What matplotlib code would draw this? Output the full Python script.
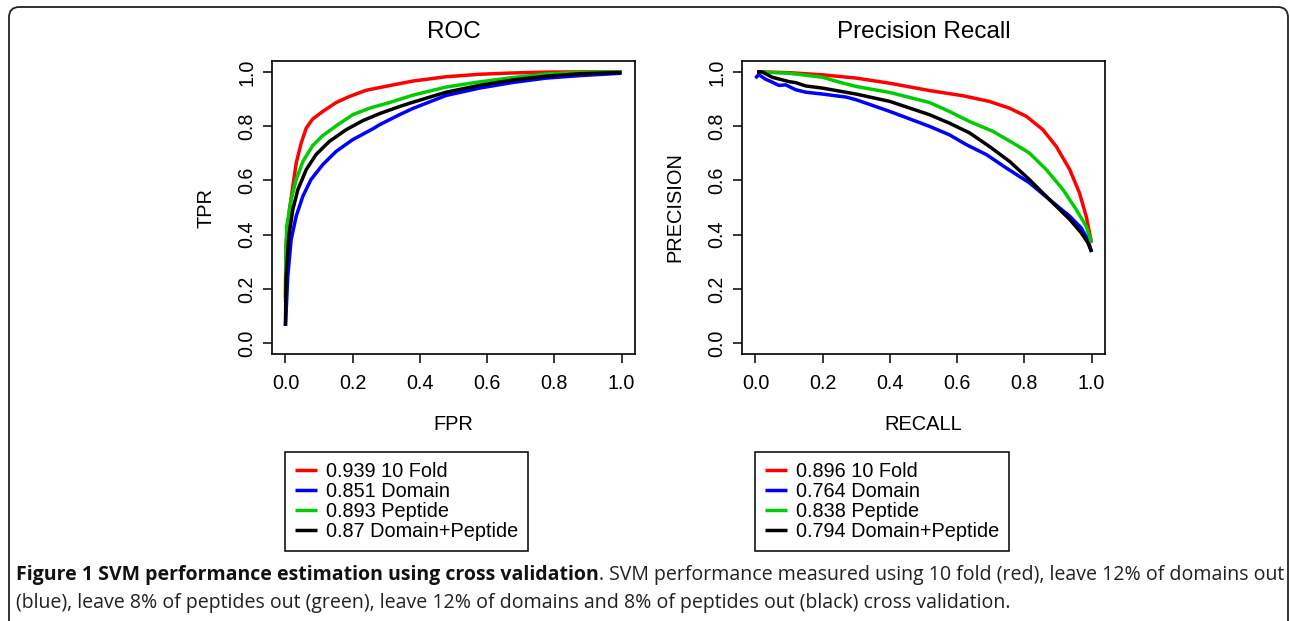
import matplotlib
matplotlib.use("Agg")
import matplotlib.pyplot as plt
from matplotlib.patches import FancyBboxPatch

# ---------------- data ----------------
roc_red_x = [0, 0.002, 0.012, 0.022, 0.032, 0.047, 0.062, 0.081, 0.111, 0.151, 0.19, 0.24,
             0.28, 0.329, 0.379, 0.478, 0.577, 0.677, 0.776, 0.875, 1.0]
roc_red_y = [0.17, 0.37, 0.493, 0.578, 0.664, 0.738, 0.793, 0.826, 0.854, 0.887, 0.909, 0.932,
             0.942, 0.954, 0.966, 0.982, 0.991, 0.996, 0.999, 1.0, 1.0]
roc_blue_x = [0, 0.007, 0.017, 0.032, 0.052, 0.076, 0.111, 0.151, 0.2, 0.26, 0.28, 0.339,
              0.379, 0.478, 0.577, 0.677, 0.776, 0.875, 1.0]
roc_blue_y = [0.064, 0.247, 0.382, 0.468, 0.542, 0.603, 0.658, 0.707, 0.75, 0.79, 0.805, 0.842,
              0.865, 0.913, 0.94, 0.961, 0.977, 0.986, 0.995]
roc_green_x = [0, 0.001, 0.004, 0.017, 0.032, 0.052, 0.081, 0.111, 0.151, 0.2, 0.25, 0.31,
               0.379, 0.478, 0.577, 0.677, 0.776, 0.875, 1.0]
roc_green_y = [0.15, 0.309, 0.431, 0.529, 0.603, 0.670, 0.728, 0.765, 0.801, 0.842, 0.866, 0.887,
               0.914, 0.944, 0.963, 0.979, 0.992, 0.998, 1.0]
roc_black_x = [0, 0.002, 0.01, 0.022, 0.037, 0.062, 0.091, 0.131, 0.181, 0.23, 0.28, 0.339,
               0.379, 0.478, 0.577, 0.677, 0.776, 0.875, 1.0]
roc_black_y = [0.064, 0.247, 0.394, 0.493, 0.566, 0.64, 0.695, 0.744, 0.787, 0.82, 0.846, 0.872,
               0.888, 0.925, 0.95, 0.97, 0.984, 0.993, 0.998]

pr_red_x = [0.005, 0.1, 0.2, 0.3, 0.4, 0.518, 0.617, 0.696, 0.756, 0.806, 0.855, 0.895,
            0.935, 0.964, 0.984, 1.0]
pr_red_y = [1.0, 0.997, 0.989, 0.977, 0.958, 0.931, 0.912, 0.891, 0.866, 0.836, 0.787, 0.725,
            0.64, 0.554, 0.468, 0.37]
pr_blue_x = [0.0, 0.01, 0.03, 0.05, 0.07, 0.09, 0.12, 0.15, 0.2, 0.27, 0.3, 0.4, 0.518, 0.577,
             0.627, 0.687, 0.746, 0.815, 0.875, 0.935, 0.969, 0.989, 1.0]
pr_blue_y = [0.977, 0.99, 0.973, 0.962, 0.95, 0.952, 0.934, 0.925, 0.918, 0.907, 0.897, 0.854,
             0.799, 0.768, 0.732, 0.695, 0.646, 0.591, 0.529, 0.468, 0.425, 0.382, 0.336]
pr_green_x = [0.01, 0.1, 0.2, 0.25, 0.3, 0.4, 0.518, 0.577, 0.637, 0.706, 0.766, 0.815, 0.865,
              0.915, 0.954, 0.984, 1.0]
pr_green_y = [1.0, 0.995, 0.98, 0.962, 0.946, 0.924, 0.887, 0.854, 0.817, 0.781, 0.738, 0.701,
              0.64, 0.566, 0.493, 0.431, 0.37]
pr_black_x = [0.005, 0.02, 0.05, 0.1, 0.12, 0.15, 0.2, 0.3, 0.4, 0.518, 0.577, 0.637, 0.696,
              0.756, 0.815, 0.875, 0.935, 0.969, 0.989, 1.0]
pr_black_y = [1.0, 1.0, 0.98, 0.964, 0.96, 0.948, 0.94, 0.918, 0.891, 0.842, 0.811, 0.775, 0.725,
              0.67, 0.603, 0.529, 0.456, 0.407, 0.37, 0.336]

roc_labels = ["0.939 10 Fold", "0.851 Domain", "0.893 Peptide", "0.87 Domain+Peptide"]
pr_labels = ["0.896 10 Fold", "0.764 Domain", "0.838 Peptide", "0.794 Domain+Peptide"]
ticks = [0.0, 0.2, 0.4, 0.6, 0.8, 1.0]
tick_labels = ["0.0", "0.2", "0.4", "0.6", "0.8", "1.0"]

caption_bold = "Figure 1 SVM performance estimation using cross validation"
caption_rest1 = ". SVM performance measured using 10 fold (red), leave 12% of domains out"
caption_line2 = ("(blue), leave 8% of peptides out (green), leave 12% of domains and 8% of "
                 "peptides out (black) cross validation.")

colors = ["#FF0000", "#0000FF", "#00CD00", "#000000"]

# ---------------- figure ----------------
W, H = 1290, 621
plt.rcParams["font.family"] = ["Liberation Sans", "DejaVu Sans"]
fig = plt.figure(figsize=(W / 100, H / 100), dpi=100)
fig.patch.set_facecolor("white")

def fx(px):
    return px / W

def fy(py):
    return 1 - py / H

# outer rounded frame
frame = FancyBboxPatch((fx(9), fy(640)), fx(1288) - fx(9), fy(7) - fy(640),
                       boxstyle="round,pad=0,rounding_size=0.008",
                       transform=fig.transFigure, fill=False,
                       edgecolor="#222222", linewidth=1.3, mutation_aspect=W / H)
fig.patches.append(frame)

ax_h = (354 - 61) / H
ax_w = (635 - 272) / W
ax1 = fig.add_axes([fx(272), fy(354), ax_w, ax_h])
ax2 = fig.add_axes([fx(742), fy(354), ax_w, ax_h])

def style(ax, title, xlabel, ylabel, ylab_x):
    ax.set_xlim(-0.04, 1.04)
    ax.set_ylim(-0.04, 1.04)
    for s in ax.spines.values():
        s.set_linewidth(1.2)
        s.set_color("black")
    ax.set_xticks(ticks)
    ax.set_yticks(ticks)
    ax.set_xticklabels(tick_labels)
    ax.set_yticklabels(tick_labels, rotation=90, va="center")
    ax.tick_params(axis="both", direction="out", length=6.5, width=1.1,
                   labelsize=14.2, color="black")
    ax.tick_params(axis="x", pad=8)
    ax.tick_params(axis="y", pad=5)
    ax.text(0.5, 1 + (61 - 32) / 293, title, transform=ax.transAxes,
            ha="center", va="center", fontsize=17.5)
    ax.text(0.5, -(424 - 354) / 293, xlabel, transform=ax.transAxes,
            ha="center", va="center", fontsize=14.4)
    ax.text(ylab_x, 0.5, ylabel, transform=ax.transAxes, rotation=90,
            ha="center", va="center", fontsize=14.4)

lw = 2.5
roc_series = [(roc_red_x, roc_red_y), (roc_blue_x, roc_blue_y),
              (roc_green_x, roc_green_y), (roc_black_x, roc_black_y)]
pr_series = [(pr_red_x, pr_red_y), (pr_blue_x, pr_blue_y),
             (pr_green_x, pr_green_y), (pr_black_x, pr_black_y)]

for (x, y), c, lab in zip(roc_series, colors, roc_labels):
    ax1.plot(x, y, color=c, lw=lw, label=lab, solid_joinstyle="round",
             solid_capstyle="butt")
for (x, y), c, lab in zip(pr_series, colors, pr_labels):
    ax2.plot(x, y, color=c, lw=lw, label=lab, solid_joinstyle="round",
             solid_capstyle="butt")

style(ax1, "ROC", "FPR", "TPR", (206 - 272) / 363)
style(ax2, "Precision Recall", "RECALL", "PRECISION", (675 - 742) / 363)

def legend(ax, left_px):
    leg = ax.legend(loc="upper left", bbox_to_anchor=(fx(left_px), fy(452)),
                    bbox_transform=fig.transFigure, borderaxespad=0,
                    fontsize=14.3, frameon=True, fancybox=False, shadow=False,
                    handlelength=1.1, handletextpad=0.45, labelspacing=0.05,
                    borderpad=0.5)
    fr = leg.get_frame()
    fr.set_edgecolor("black")
    fr.set_linewidth(1.1)
    fr.set_alpha(1)
    for h in leg.get_lines():
        h.set_linewidth(2.5)
    return leg

legend(ax1, 285)
legend(ax2, 755)

# ---------------- caption ----------------
cap_family = ["Open Sans", "DejaVu Sans"]
t_bold = fig.text(fx(16), fy(580), caption_bold, fontsize=12, fontweight="bold",
                  family=cap_family, color="#111111", va="baseline", ha="left")
t_rest = fig.text(fx(16), fy(580), caption_rest1, fontsize=12,
                  family=cap_family, color="#231f20", va="baseline", ha="left")
t_l2 = fig.text(fx(16), fy(608), caption_line2, fontsize=12,
                family=cap_family, color="#231f20", va="baseline", ha="left")

fig.canvas.draw()
r = fig.canvas.get_renderer()
wb = t_bold.get_window_extent(r).width
wr = t_rest.get_window_extent(r).width
scale = (1278 - 16) / (wb + wr)
size = 12 * scale
for t in (t_bold, t_rest, t_l2):
    t.set_fontsize(size)
fig.canvas.draw()
wb = t_bold.get_window_extent(r).width
t_rest.set_x(fx(16 + wb))

fig.savefig("out.png", dpi=100, facecolor="white")
